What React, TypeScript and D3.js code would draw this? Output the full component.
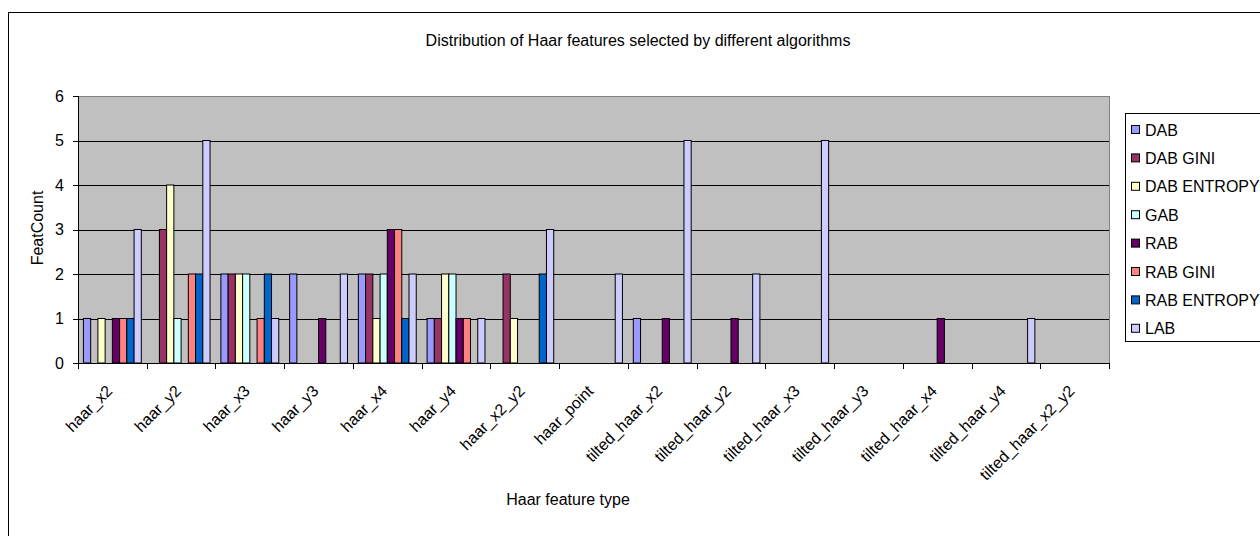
import React from "react";
import * as d3 from "d3";

const categories = [
  "haar_x2", "haar_y2", "haar_x3", "haar_y3", "haar_x4", "haar_y4", "haar_x2_y2",
  "haar_point", "tilted_haar_x2", "tilted_haar_y2", "tilted_haar_x3", "tilted_haar_y3",
  "tilted_haar_x4", "tilted_haar_y4", "tilted_haar_x2_y2",
];

const seriesNames = ["DAB", "DAB GINI", "DAB ENTROPY", "GAB", "RAB", "RAB GINI", "RAB ENTROPY", "LAB"];
const seriesColors = ["#9999FF", "#993366", "#FFFFCC", "#CCFFFF", "#660066", "#FF8080", "#0066CC", "#CCCCFF"];

// one array per algorithm, values per feature type in category order
const dab = [1, 0, 2, 2, 2, 1, 0, 0, 1, 0, 0, 0, 0, 0, 0];
const dabGini = [0, 3, 2, 0, 2, 1, 2, 0, 0, 0, 0, 0, 0, 0, 0];
const dabEntropy = [1, 4, 2, 0, 1, 2, 1, 0, 0, 0, 0, 0, 0, 0, 0];
const gab = [0, 1, 2, 0, 2, 2, 0, 0, 0, 0, 0, 0, 0, 0, 0];
const rab = [1, 0, 0, 1, 3, 1, 0, 0, 1, 1, 0, 0, 1, 0, 0];
const rabGini = [1, 2, 1, 0, 3, 1, 0, 0, 0, 0, 0, 0, 0, 0, 0];
const rabEntropy = [1, 2, 2, 0, 1, 0, 2, 0, 0, 0, 0, 0, 0, 0, 0];
const lab = [3, 5, 1, 2, 2, 1, 3, 2, 5, 2, 5, 0, 0, 1, 0];

const seriesValues = [dab, dabGini, dabEntropy, gab, rab, rabGini, rabEntropy, lab];
const yTicks = [0, 1, 2, 3, 4, 5, 6];

const W = 1260;
const H = 536;
const plot = { left: 78, right: 1109, top: 96, bottom: 363 };
const font = "Arial, 'Liberation Sans', sans-serif";
const fs = 16;

export default function App() {
  const x = d3.scaleBand<string>().domain(categories).range([plot.left, plot.right]).padding(0);
  const bw = x.bandwidth();
  // 150% gap between clusters, split on both sides of each category
  const edge = (bw * 0.75) / 9.5;
  const xs = d3.scaleBand<string>().domain(seriesNames).range([edge, bw - edge]).padding(0);
  const y = d3.scaleLinear().domain([0, 6]).range([plot.bottom, plot.top]);

  const boundaries = categories.map((c) => x(c) as number).concat([plot.right]);

  return (
    <svg
      width={W}
      height={H}
      style={{ position: "absolute", left: 0, top: 0, background: "#fff" }}
      fontFamily={font}
    >
      <rect x={8.5} y={12.5} width={1300} height={600} fill="#fff" stroke="#000" strokeWidth={1} />
      <text x={638} y={46} textAnchor="middle" fontSize={fs} fill="#000">
        Distribution of Haar features selected by different algorithms
      </text>

      {/* plot area */}
      <rect x={plot.left} y={plot.top} width={plot.right - plot.left} height={plot.bottom - plot.top} fill="#C0C0C0" />
      <line x1={plot.left} x2={plot.right} y1={plot.top + 0.5} y2={plot.top + 0.5} stroke="#808080" />
      <line x1={plot.right + 0.5} x2={plot.right + 0.5} y1={plot.top} y2={plot.bottom} stroke="#808080" />

      {yTicks.slice(1, -1).map((t) => (
        <line key={t} x1={plot.left} x2={plot.right} y1={Math.round(y(t)) + 0.5} y2={Math.round(y(t)) + 0.5} stroke="#000" />
      ))}

      {seriesValues.map((vals, si) =>
        vals.map((v, ci) =>
          v > 0 ? (
            <rect
              key={`${si}-${ci}`}
              x={(x(categories[ci]) as number) + (xs(seriesNames[si]) as number)}
              y={y(v)}
              width={xs.bandwidth()}
              height={y(0) - y(v)}
              fill={seriesColors[si]}
              stroke="#000"
              strokeWidth={1}
            />
          ) : null
        )
      )}

      {/* axes */}
      <line x1={plot.left + 0.5} x2={plot.left + 0.5} y1={plot.top} y2={plot.bottom} stroke="#000" />
      <line x1={plot.left} x2={plot.right + 1} y1={plot.bottom + 0.5} y2={plot.bottom + 0.5} stroke="#000" />
      {yTicks.map((t) => (
        <g key={t}>
          <line x1={plot.left - 5} x2={plot.left} y1={Math.round(y(t)) + 0.5} y2={Math.round(y(t)) + 0.5} stroke="#000" />
          <text x={64} y={y(t)} dy="0.35em" textAnchor="end" fontSize={fs} fill="#000">
            {t}
          </text>
        </g>
      ))}
      {boundaries.map((b, i) => (
        <line key={i} x1={Math.round(b) + 0.5} x2={Math.round(b) + 0.5} y1={plot.bottom} y2={plot.bottom + 6} stroke="#000" />
      ))}
      {categories.map((c) => (
        <text
          key={c}
          transform={`translate(${(x(c) as number) + bw / 2 + 1},${plot.bottom + 29}) rotate(-45)`}
          textAnchor="end"
          fontSize={fs}
          fill="#000"
        >
          {c}
        </text>
      ))}

      <text transform={`translate(43,228) rotate(-90)`} textAnchor="middle" fontSize={fs} fill="#000">
        FeatCount
      </text>
      <text x={568} y={505} textAnchor="middle" fontSize={fs} fill="#000">
        Haar feature type
      </text>

      {/* legend */}
      <rect x={1125.5} y={113.5} width={200} height={228} fill="#fff" stroke="#000" />
      {seriesNames.map((s, i) => (
        <g key={s} transform={`translate(1131,${130 + i * 28.4})`}>
          <rect x={0.5} y={-4.5} width={8} height={8} fill={seriesColors[i]} stroke="#000" />
          <text x={14} y={0} dy="0.35em" fontSize={fs} fill="#000">
            {s}
          </text>
        </g>
      ))}
    </svg>
  );
}
